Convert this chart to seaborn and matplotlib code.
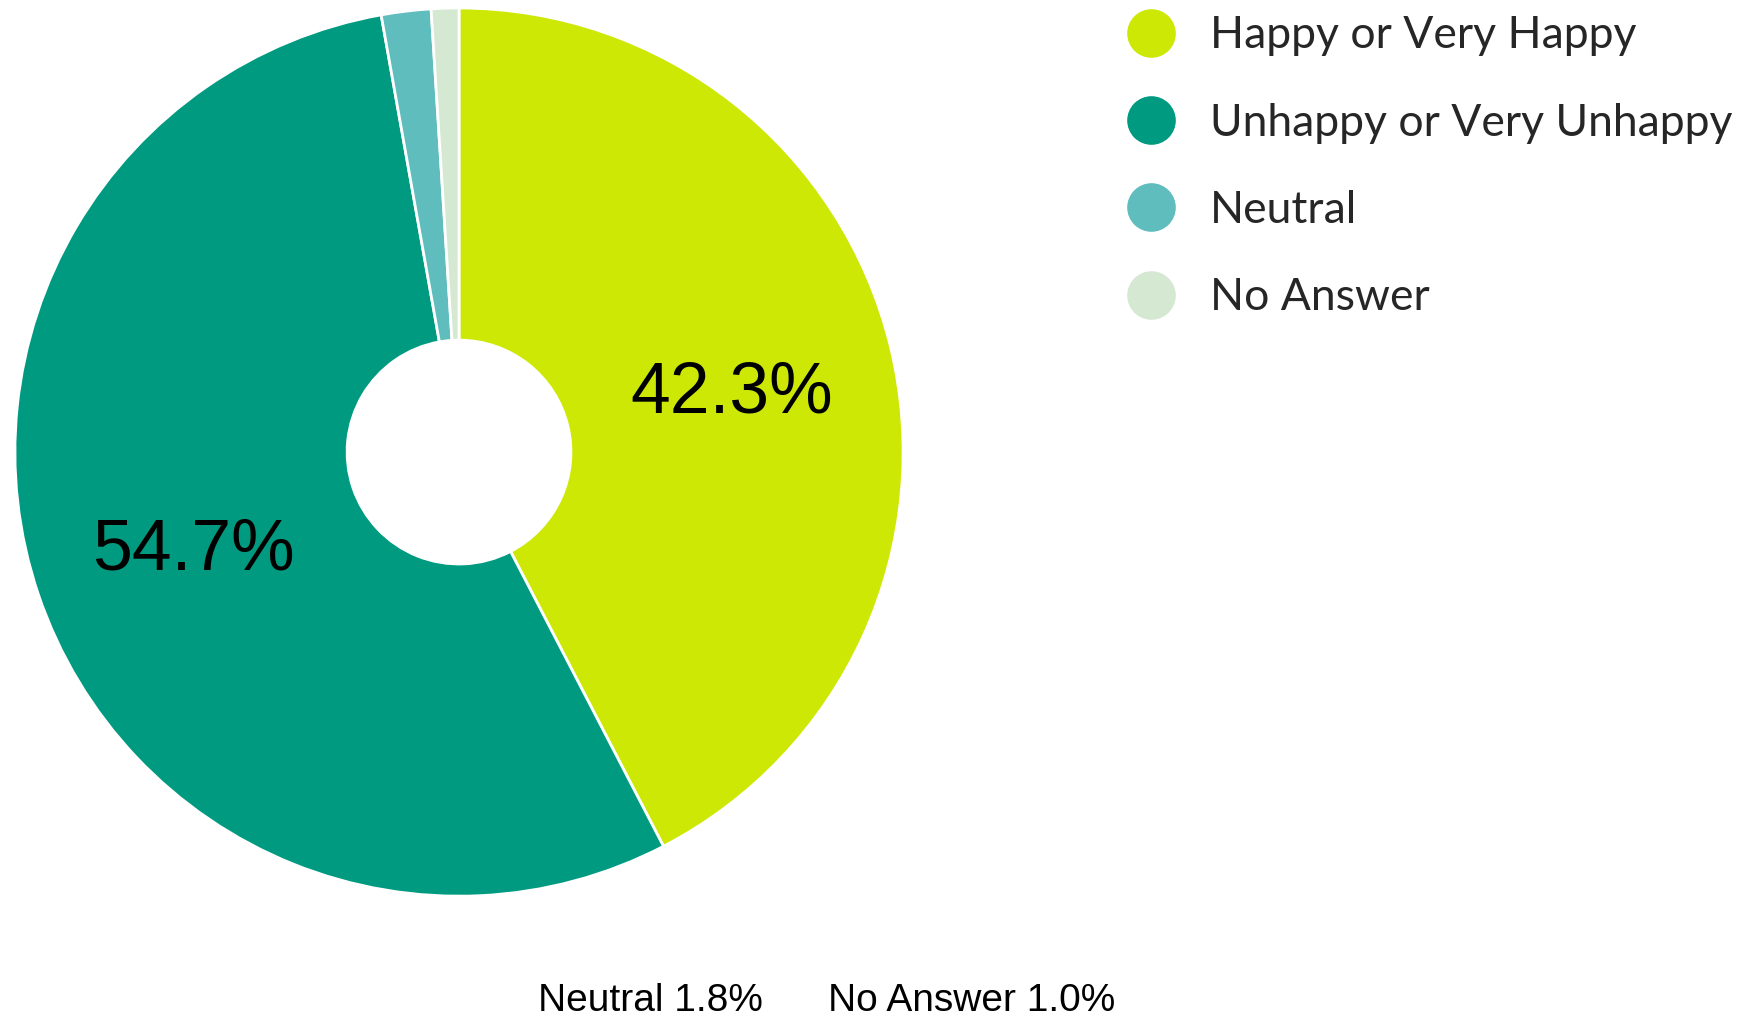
import matplotlib
matplotlib.use("Agg")
import numpy as np
import matplotlib.pyplot as plt
from matplotlib.lines import Line2D
import seaborn as sns

# survey answers (percent)
categories = ["Happy or Very Happy", "Unhappy or Very Unhappy", "Neutral", "No Answer"]
short_names = ["Happy", "Unhappy", "Neutral", "No Answer"]
values = [42.3, 54.7, 1.8, 1.0]
colors = ["#cde805", "#009a80", "#5fbdbd", "#d5e9d2"]

sns.set_theme(style="white")
plt.rcParams["font.family"] = ["Liberation Sans", "DejaVu Sans"]

fig = plt.figure(figsize=(17.56, 10.19), dpi=100)
fig.patch.set_facecolor("white")
ax = fig.add_axes([0.0085, 0.1205, 0.5058, 0.8717])

wedges, texts = ax.pie(
    values,
    colors=colors,
    startangle=90,
    counterclock=False,
    radius=1.0,
    wedgeprops=dict(width=0.748, edgecolor="white", linewidth=2),
)
ax.set_xlim(-1, 1)
ax.set_ylim(-1, 1)
ax.set_aspect("equal")
ax.axis("off")

# percent labels inside the two big slices (use the survey numbers as given)
for w, v in zip(wedges, values):
    if v < 5:
        continue
    mid = np.deg2rad((w.theta1 + w.theta2) / 2)
    r = 0.632
    ax.text(r * np.cos(mid), r * np.sin(mid) - 0.02, f"{v:.1f}%",
            fontsize=51.5, ha="center", va="center", color="black")

# legend with round markers
handles = [Line2D([], [], marker="o", linestyle="", markersize=35, color=c,
                  markeredgewidth=0) for c in colors]
leg = fig.legend(handles, categories, loc="upper left",
                 bbox_to_anchor=(1129 / 1756, 1 - 15.5 / 1019),
                 frameon=False, borderpad=0, borderaxespad=0,
                 handlelength=1.0, handletextpad=0.83, labelspacing=1.04,
                 prop=dict(family="Lato", size=32))
for t in leg.get_texts():
    t.set_color("#262626")

# small slices are labelled below the chart
fig.text(538 / 1756, 1 - 1011 / 1019, f"{short_names[2]} {values[2]:.1f}%",
         fontsize=28, ha="left", va="baseline", color="black")
fig.text(828 / 1756, 1 - 1011 / 1019, f"{short_names[3]} {values[3]:.1f}%",
         fontsize=28, ha="left", va="baseline", color="black")

fig.savefig("out.png", dpi=100, facecolor="white")
